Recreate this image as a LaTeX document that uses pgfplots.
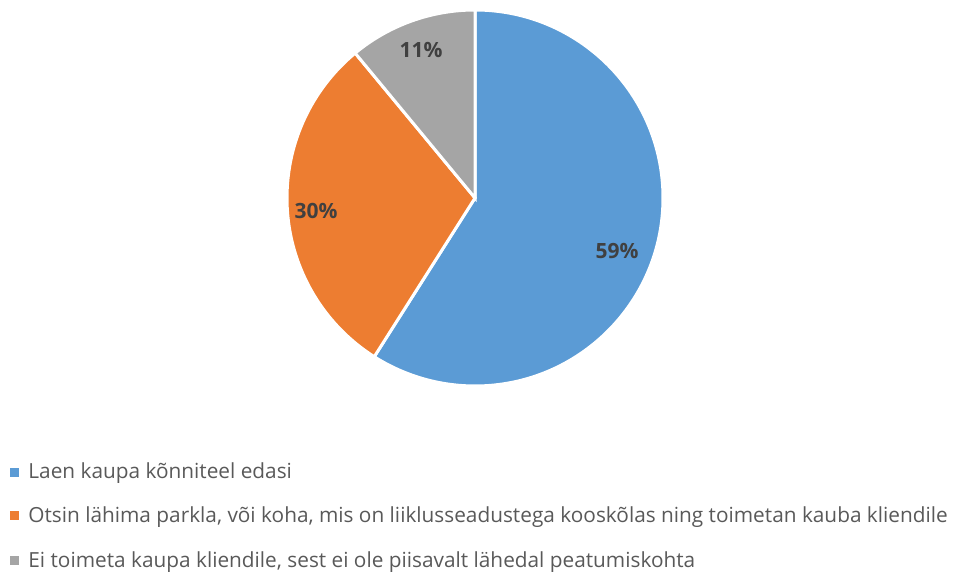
\documentclass[border=0pt]{standalone}
\usepackage{fontspec}
\setmainfont{Open Sans}
\usepackage{pgfplots}
\pgfplotsset{compat=1.18}

\definecolor{pieblue}{HTML}{5B9BD5}
\definecolor{pieorange}{HTML}{ED7D31}
\definecolor{piegray}{HTML}{A5A5A5}
\definecolor{labeltext}{HTML}{404040}
\definecolor{legendtext}{HTML}{595959}

% shares in percent
\def\vA{59}
\def\vB{30}
\def\vC{11}
\pgfmathsetmacro\aA{90}
\pgfmathsetmacro\aB{\aA-3.6*\vA}
\pgfmathsetmacro\aC{\aB-3.6*\vB}
\pgfmathsetmacro\aD{\aC-3.6*\vC}

\begin{document}
\begin{tikzpicture}
\begin{axis}[
    hide axis,
    scale only axis,
    width=477.5pt, height=288.5pt,
    xmin=0, xmax=955, ymin=0, ymax=577,
    clip=false,
]
\path (rel axis cs:0,0) rectangle (rel axis cs:1,1);
% slices
\fill[pieblue, draw=white, line width=1.5pt] (axis cs:475,379) -- ++(\aA:94pt)
    arc[start angle=\aA, end angle=\aB, radius=94pt] -- cycle;
\fill[pieorange, draw=white, line width=1.5pt] (axis cs:475,379) -- ++(\aB:94pt)
    arc[start angle=\aB, end angle=\aC, radius=94pt] -- cycle;
\fill[piegray, draw=white, line width=1.5pt] (axis cs:475,379) -- ++(\aC:94pt)
    arc[start angle=\aC, end angle=\aD, radius=94pt] -- cycle;
% data labels
\node[font=\bfseries\fontsize{10.5}{12}\selectfont, text=labeltext] at (axis cs:617,326) {\vA\%};
\node[font=\bfseries\fontsize{10.5}{12}\selectfont, text=labeltext] at (axis cs:316,366) {\vB\%};
\node[font=\bfseries\fontsize{10.5}{12}\selectfont, text=labeltext] at (axis cs:421,527) {\vC\%};
% legend
\fill[pieblue] (axis cs:10,100) rectangle (axis cs:18.5,109);
\fill[pieorange] (axis cs:10,57) rectangle (axis cs:18.5,65.5);
\fill[piegray] (axis cs:10,12) rectangle (axis cs:18.5,20.5);
\begin{scope}[every node/.style={anchor=base west, inner sep=0pt, text=legendtext, font=\fontsize{10.4}{12}\selectfont}]
\node at (axis cs:28,98) {Laen kaupa kõnniteel edasi};
\node at (axis cs:28,54) {Otsin lähima parkla, või koha, mis on liiklusseadustega kooskõlas ning toimetan kauba kliendile};
\node at (axis cs:28,9) {Ei toimeta kaupa kliendile, sest ei ole piisavalt lähedal peatumiskohta};
\end{scope}
\end{axis}
\end{tikzpicture}
\end{document}
